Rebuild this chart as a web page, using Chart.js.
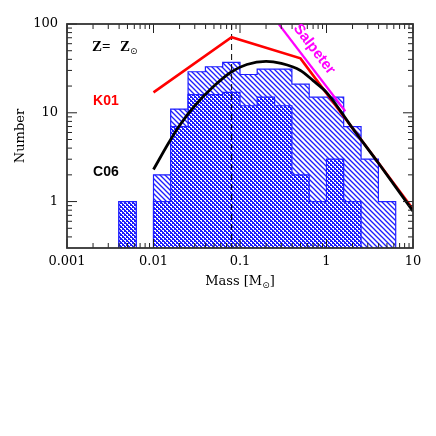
<!DOCTYPE html>
<html>
<head>
<meta charset="utf-8">
<script src="https://cdn.jsdelivr.net/npm/chart.js@4.4.0/dist/chart.umd.min.js"></script>
<style>
  body { margin: 0; background: #fff; }
  canvas { display: block; }
</style>
</head>
<body>
<canvas id="grafico" width="436" height="436"></canvas>
<script>
const binEdges = [0.00398, 0.00631, 0.01, 0.0158, 0.0251, 0.0398, 0.0631, 0.1, 0.158, 0.251, 0.398, 0.631, 1, 1.58, 2.51, 3.98, 6.31];
const countsAll = [1, 0, 2, 11, 29, 33, 37, 27, 31, 31, 21, 15, 15, 7, 3, 1];
const countsSub = [1, 0, 1, 7, 16, 16, 17, 12, 15, 12, 2, 1, 3, 1, 0, 0];

// curvas de IMF
const c06Mass = [0.01, 0.015, 0.02, 0.03, 0.05, 0.08, 0.12, 0.2, 0.3, 0.5, 0.7, 1, 2, 4, 10];
const c06Value = [2.3, 4.6, 7.2, 12, 20, 29, 35, 38, 36, 30, 23, 17, 6.7, 2.7, 0.78];
const k01Mass = [0.01, 0.08, 0.5, 10];
const k01Value = [17, 71, 41, 0.82];
const salpMass = [0.28, 1.65];
const salpValue = [100, 10.4];
const limiteMassa = 0.08;

const xTicks = [0.001, 0.01, 0.1, 1, 10];
const xTickLabels = ['0.001', '0.01', '0.1', '1', '10'];
const yTicks = [1, 10, 100];
const yTickLabels = ['1', '10', '100'];
const xMin = 0.001, xMax = 10, yMin = 0.32, yMax = 100;

const azul = 'rgb(30,30,255)';
const piso = 1e-3; // abaixo do eixo, para bins vazios

function degraus(contagens) {
    const pts = [{ x: binEdges[0], y: piso }];
    contagens.forEach((c, i) => pts.push({ x: binEdges[i], y: c > 0 ? c : piso }));
    pts.push({ x: binEdges[binEdges.length - 1], y: piso });
    return pts;
}

// hachura diagonal "\\"
function hachura(tam, larg) {
    const c = document.createElement('canvas');
    c.width = c.height = tam;
    const g = c.getContext('2d');
    g.strokeStyle = azul;
    g.lineWidth = larg;
    g.beginPath();
    for (const k of [-tam, 0, tam]) {
        g.moveTo(-1, -1 + k); g.lineTo(tam + 1, tam + 1 + k);
    }
    g.stroke();
    return g.createPattern(c, 'repeat');
}

// hachura cruzada fina (xadrez)
function xadrez() {
    const c = document.createElement('canvas');
    c.width = c.height = 4;
    const g = c.getContext('2d');
    g.fillStyle = azul;
    g.fillRect(0, 0, 4, 4);
    g.fillStyle = '#fff';
    g.fillRect(0, 0, 2, 1);
    g.fillRect(1, 1, 1, 1);
    g.fillRect(2, 2, 2, 1);
    g.fillRect(3, 3, 1, 1);
    return g.createPattern(c, 'repeat');
}

function menores(min, max) {
    const v = [];
    for (let e = Math.floor(Math.log10(min)); Math.pow(10, e) < max; e++) {
        const d = Math.pow(10, e);
        for (let k = 2; k <= 9; k++) {
            const t = k * d;
            if (t > min * 1.001 && t < max * 0.999) v.push(t);
        }
    }
    return v;
}

function textoSub(ctx, x, y, base, sub, fonte, fonteSub, desce) {
    ctx.font = fonte;
    ctx.fillText(base, x, y);
    const w = ctx.measureText(base).width;
    ctx.font = fonteSub;
    ctx.fillText(sub, x + w, y + desce);
}

const moldura = {
    id: 'moldura',
    afterDraw(chart) {
        const { ctx, chartArea: a, scales: { x, y } } = chart;
        ctx.save();
        ctx.strokeStyle = '#222';
        ctx.lineWidth = 1;
        ctx.beginPath();
        const marcaX = (v, len) => {
            const px = x.getPixelForValue(v);
            ctx.moveTo(px, a.bottom); ctx.lineTo(px, a.bottom - len);
            ctx.moveTo(px, a.top); ctx.lineTo(px, a.top + len);
        };
        const marcaY = (v, len) => {
            const py = y.getPixelForValue(v);
            ctx.moveTo(a.left, py); ctx.lineTo(a.left + len, py);
            ctx.moveTo(a.right, py); ctx.lineTo(a.right - len, py);
        };
        xTicks.forEach(v => marcaX(v, 9));
        menores(xMin, xMax).forEach(v => marcaX(v, 5));
        yTicks.forEach(v => marcaY(v, 10));
        menores(yMin, yMax).forEach(v => marcaY(v, 5));
        ctx.stroke();
        ctx.lineWidth = 1.8;
        ctx.strokeStyle = '#333';
        ctx.strokeRect(a.left, a.top, a.right - a.left, a.bottom - a.top);

        // titulo do eixo x com subscrito
        ctx.fillStyle = '#000';
        ctx.textBaseline = 'alphabetic';
        const fT = '13px "DejaVu Serif"', fS = '9px "DejaVu Sans"';
        ctx.font = fT;
        const w1 = ctx.measureText('Mass [M').width, w3 = ctx.measureText(']').width;
        ctx.font = fS;
        const w2 = ctx.measureText('\u2299').width;
        let tx = (a.left + a.right) / 2 - (w1 + w2 + w3) / 2;
        const ty = a.bottom + 37;
        ctx.font = fT; ctx.fillText('Mass [M', tx, ty);
        ctx.font = fS; ctx.fillText('\u2299', tx + w1, ty + 3);
        ctx.font = fT; ctx.fillText(']', tx + w1 + w2, ty);

        // rotulos
        const zx = x.getPixelForValue(0.00195), zy = y.getPixelForValue(50);
        ctx.fillStyle = '#000';
        ctx.font = 'bold 15px "Liberation Serif"';
        ctx.fillText('Z=', zx, zy);
        textoSub(ctx, zx + 28, zy, 'Z', '\u2299', 'bold 15px "Liberation Serif"', '9px "DejaVu Sans"', 3);

        ctx.font = 'bold 14px "Liberation Sans"';
        ctx.fillStyle = '#ff0000';
        ctx.fillText('K01', x.getPixelForValue(0.002), y.getPixelForValue(12.2));
        ctx.fillStyle = '#000';
        ctx.fillText('C06', x.getPixelForValue(0.002), y.getPixelForValue(1.96));

        const p0x = x.getPixelForValue(salpMass[0]), p0y = y.getPixelForValue(salpValue[0]);
        const p1x = x.getPixelForValue(salpMass[1]), p1y = y.getPixelForValue(salpValue[1]);
        const ang = Math.atan2(p1y - p0y, p1x - p0x);
        ctx.translate(x.getPixelForValue(0.72), y.getPixelForValue(52));
        ctx.rotate(ang);
        ctx.fillStyle = '#ff00ff';
        ctx.font = 'bold 15px "Liberation Sans"';
        ctx.textAlign = 'center';
        ctx.textBaseline = 'middle';
        ctx.fillText('Salpeter', 0, 0);
        ctx.restore();
    }
};

const serie = (ms, vs) => ms.map((m, i) => ({ x: m, y: vs[i] }));

const ctx = document.getElementById('grafico').getContext('2d');
window.chart = new Chart(ctx, {
    type: 'line',
    data: {
        datasets: [
            {
                label: 'C06',
                data: serie(c06Mass, c06Value),
                borderColor: '#000',
                borderWidth: 2.8,
                cubicInterpolationMode: 'monotone',
                pointRadius: 0,
                fill: false,
                order: 0
            },
            {
                label: 'Salpeter',
                data: serie(salpMass, salpValue),
                borderColor: '#ff00ff',
                borderWidth: 2.2,
                pointRadius: 0,
                fill: false,
                order: 1
            },
            {
                label: 'K01',
                data: serie(k01Mass, k01Value),
                borderColor: '#ff0000',
                borderWidth: 2.6,
                pointRadius: 0,
                fill: false,
                order: 2
            },
            {
                label: 'limite',
                data: [{ x: limiteMassa, y: yMax }, { x: limiteMassa, y: piso }],
                borderColor: '#000',
                borderWidth: 1,
                borderDash: [6, 4],
                pointRadius: 0,
                fill: false,
                order: 3
            },
            {
                label: 'sub',
                data: degraus(countsSub),
                stepped: 'before',
                borderColor: azul,
                borderWidth: 1.2,
                backgroundColor: xadrez(),
                fill: 'start',
                pointRadius: 0,
                order: 4
            },
            {
                label: 'todos',
                data: degraus(countsAll),
                stepped: 'before',
                borderColor: azul,
                borderWidth: 1.2,
                backgroundColor: hachura(5, 1.3),
                fill: 'start',
                pointRadius: 0,
                order: 5
            }
        ]
    },
    options: {
        responsive: false,
        animation: false,
        layout: { padding: { left: 0, right: 23, top: 24, bottom: 140 } },
        plugins: { legend: { display: false }, tooltip: { enabled: false } },
        scales: {
            x: {
                type: 'logarithmic',
                min: xMin,
                max: xMax,
                afterBuildTicks: s => { s.ticks = xTicks.map(v => ({ value: v })); },
                afterFit: s => { s.height = 48; },
                grid: { display: false, drawTicks: false },
                border: { display: false },
                ticks: {
                    autoSkip: false,
                    maxRotation: 0,
                    padding: 6,
                    color: '#000',
                    font: { family: 'DejaVu Serif', size: 13 },
                    callback: (v, i) => xTickLabels[i]
                },
                title: { display: false }
            },
            y: {
                type: 'logarithmic',
                min: yMin,
                max: yMax,
                afterBuildTicks: s => { s.ticks = yTicks.map(v => ({ value: v })); },
                afterFit: s => { s.width = 67; },
                grid: { display: false, drawTicks: false },
                border: { display: false },
                ticks: {
                    autoSkip: false,
                    padding: 9,
                    color: '#000',
                    font: { family: 'DejaVu Serif', size: 13 },
                    callback: (v, i) => yTickLabels[i]
                },
                title: {
                    display: true,
                    text: 'Number',
                    color: '#000',
                    font: { family: 'DejaVu Serif', size: 13 },
                    padding: { top: 13, bottom: 0 }
                }
            }
        }
    },
    plugins: [moldura]
});
</script>
</body>
</html>
